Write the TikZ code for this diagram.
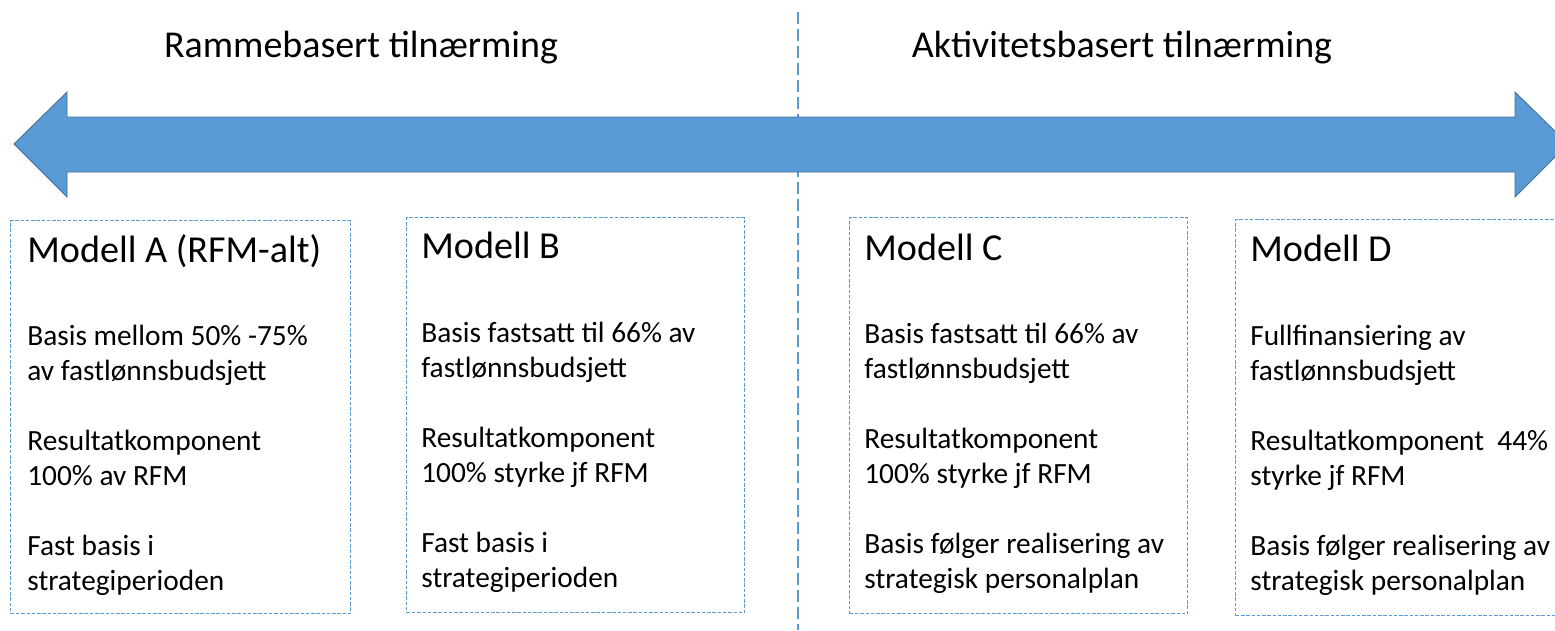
\documentclass[tikz,border=0pt]{standalone}
\usepackage{fontspec}
\setmainfont{Carlito}
\definecolor{arrowfill}{HTML}{5B9BD5}
\definecolor{arrowline}{HTML}{41719C}
\definecolor{dashblue}{HTML}{5B9BD5}
\begin{document}
\begin{tikzpicture}[x=0.02cm, y=-0.02cm,
				    heading/.style={anchor=base, inner sep=0pt,
				    			  font=\fontsize{21.6}{25}\selectfont},
				    modelbox/.style={draw=dashblue, line width=0.8pt,
				    			  dash pattern=on 2pt off 1pt, anchor=north west,
				    			  inner sep=0pt, minimum width=6.76cm, minimum height=7.9cm},
				    modelname/.style={anchor=base west, inner sep=0pt,
				    			  font=\fontsize{21.7}{25}\selectfont},
				    modeltext/.style={anchor=base west, inner sep=0pt, align=left,
				    			  font=\fontsize{16.7}{19.9}\selectfont}]
	\clip (0,0) rectangle (1555,630);
	\useasboundingbox (0,0) rectangle (1555,630);

	% divider
	\coordinate (d0) at (798,12);
	\coordinate (d1) at (798,630);
	\draw[dashblue, line width=0.8pt, dash pattern=on 0.24cm off 0.1cm] (d0) -- (d1);

	\node[heading] (h1) at (361,57) {Rammebasert tilnærming};
	\node[heading] (h2) at (1122,57) {Aktivitetsbasert tilnærming};

	% double arrow
	\filldraw[fill=arrowfill, draw=arrowline, line width=0.5pt]
		(14,144) -- (67,92) -- (67,117) -- (1515,117) -- (1515,92)
		-- (1568,144) -- (1515,197) -- (1515,172) -- (67,172) -- (67,197) -- cycle;

	\node[modelbox, minimum width=6.8cm, minimum height=7.86cm] (b1) at (10,220) {};
	\node[modelbox, minimum height=7.9cm] (b2) at (406,217) {};
	\node[modelbox, minimum height=7.92cm] (b3) at (849,217) {};
	\node[modelbox, minimum height=7.92cm] (b4) at (1235,219) {};

	\node[modelname] (m1) at (27,262) {Modell A (RFM-alt)};
	\node[modelname] (m2) at (421,258) {Modell B};
	\node[modelname] (m3) at (864,260) {Modell C};
	\node[modelname] (m4) at (1250,261) {Modell D};

	% base anchor sits on the last line
	\node[modeltext] (t1) at (27,590) {Basis mellom 50\% -75\%\\av fastlønnsbudsjett\\[19.9pt]
		Resultatkomponent\\100\% av RFM\\[19.9pt]Fast basis i\\strategiperioden};
	\node[modeltext] (t2) at (421,587) {Basis fastsatt til 66\% av\\fastlønnsbudsjett\\[19.9pt]
		Resultatkomponent\\100\% styrke jf RFM\\[19.9pt]Fast basis i\\strategiperioden};
	\node[modeltext] (t3) at (864,588) {Basis fastsatt til 66\% av\\fastlønnsbudsjett\\[19.9pt]
		Resultatkomponent\\100\% styrke jf RFM\\[19.9pt]Basis følger realisering av\\strategisk personalplan};
	\node[modeltext] (t4) at (1250,590) {Fullfinansiering av\\fastlønnsbudsjett\\[19.9pt]
		Resultatkomponent~~44\%\\styrke jf RFM\\[19.9pt]Basis følger realisering av\\strategisk personalplan};

\end{tikzpicture}
\end{document}
